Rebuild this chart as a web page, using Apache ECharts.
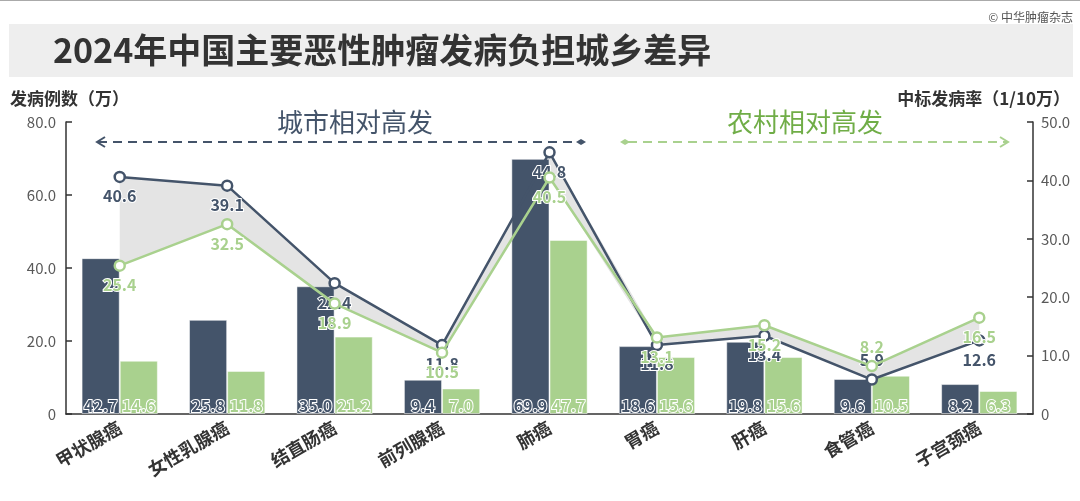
<!DOCTYPE html>
<html><head><meta charset="utf-8">
<script src="https://cdn.jsdelivr.net/npm/echarts@6/dist/echarts.min.js"></script>
<style>html,body{margin:0;padding:0;background:#fff}#c{width:1080px;height:501px}</style>
</head><body><div id="c"></div>
<script>
const categories = ['甲状腺癌','女性乳腺癌','结直肠癌','前列腺癌','肺癌','胃癌','肝癌','食管癌','子宫颈癌'];
const urbanCases = [42.7, 25.8, 35.0, 9.4, 69.9, 18.6, 19.8, 9.6, 8.2];
const ruralCases = [14.6, 11.8, 21.2, 7.0, 47.7, 15.6, 15.6, 10.5, 6.3];
const urbanRate = [40.6, 39.1, 22.4, 11.8, 44.8, 11.8, 13.4, 5.9, 12.6];
const ruralRate = [25.4, 32.5, 18.9, 10.5, 40.5, 13.1, 15.2, 8.2, 16.5];
const leftTicks = [0, 20, 40, 60, 80];
const rightTicks = [0, 10, 20, 30, 40, 50];

const FONT = '"Noto Sans CJK SC","Noto Sans",sans-serif';
const BLUE = '#44546a', GREEN = '#a9d18e', GREEN_TXT = '#70ad47';
const bandBase = urbanRate.map((u, i) => Math.min(u, ruralRate[i]));
const bandDiff = urbanRate.map((u, i) => +Math.abs(u - ruralRate[i]).toFixed(2));
const fmt = v => v === 0 ? '0' : v.toFixed(1);
const lineLabel = (color, data) => data.map((v, i) => ({
  value: v,
  label: { position: i === 7 ? 'top' : 'bottom' }
}));

const chart = echarts.init(document.getElementById('c'), null, { renderer: 'canvas' });
chart.setOption({
  animation: false,
  textStyle: { fontFamily: FONT },
  grid: { left: 66, right: 47, top: 122, bottom: 87 },
  xAxis: {
    type: 'category', data: categories,
    axisLine: { lineStyle: { color: '#333', width: 1.5 } },
    axisTick: { show: false },
    axisLabel: { rotate: 30, fontSize: 18, fontWeight: 'bold', color: '#333', fontFamily: FONT, margin: 12, interval: 0 }
  },
  yAxis: [
    { type: 'value', min: leftTicks[0], max: leftTicks[leftTicks.length - 1], interval: 20,
      splitLine: { show: false },
      axisLine: { show: true, lineStyle: { color: '#333', width: 1.5 } },
      axisTick: { show: true, inside: true, length: 6, lineStyle: { color: '#333', width: 1.5 } },
      axisLabel: { formatter: fmt, color: '#595959', fontSize: 15, fontFamily: FONT, margin: 10 } },
    { type: 'value', min: rightTicks[0], max: rightTicks[rightTicks.length - 1], interval: 10,
      splitLine: { show: false },
      axisLine: { show: true, lineStyle: { color: '#333', width: 1.5 } },
      axisTick: { show: true, inside: true, length: 6, lineStyle: { color: '#333', width: 1.5 } },
      axisLabel: { formatter: fmt, color: '#595959', fontSize: 15, fontFamily: FONT, margin: 8 } }
  ],
  series: [
    { type: 'line', yAxisIndex: 1, stack: 'band', data: bandBase, symbol: 'none',
      lineStyle: { opacity: 0 }, silent: true, z: 1 },
    { type: 'line', yAxisIndex: 1, stack: 'band', data: bandDiff, symbol: 'none',
      lineStyle: { opacity: 0 }, areaStyle: { color: '#e4e4e4', opacity: 1 }, silent: true, z: 1 },
    { name: '城市发病例数', type: 'bar', data: urbanCases, barGap: '0%', barCategoryGap: '29%',
      itemStyle: { color: BLUE, borderColor: 'rgba(255,255,255,0.5)', borderWidth: 1 }, z: 2,
      label: { show: true, position: 'insideBottom', distance: 0, formatter: p => p.value.toFixed(1),
        color: BLUE, fontSize: 16, fontWeight: 'bold', fontFamily: FONT, textBorderColor: '#fff', textBorderWidth: 2 } },
    { name: '农村发病例数', type: 'bar', data: ruralCases,
      itemStyle: { color: GREEN, borderColor: 'rgba(255,255,255,0.5)', borderWidth: 1 }, z: 2,
      label: { show: true, position: 'insideBottom', distance: 0, formatter: p => p.value.toFixed(1),
        color: GREEN, fontSize: 16, fontWeight: 'bold', fontFamily: FONT, textBorderColor: '#fff', textBorderWidth: 2 } },
    { name: '城市发病率', type: 'line', yAxisIndex: 1, data: lineLabel(BLUE, urbanRate), z: 3,
      symbol: 'circle', symbolSize: 10,
      itemStyle: { color: '#fff', borderColor: BLUE, borderWidth: 2.5 },
      lineStyle: { color: BLUE, width: 2.5 },
      label: { show: true, distance: 5, formatter: p => p.value.toFixed(1), color: BLUE,
        fontSize: 16, fontWeight: 'bold', fontFamily: FONT, textBorderColor: '#fff', textBorderWidth: 2 } },
    { name: '农村发病率', type: 'line', yAxisIndex: 1, data: lineLabel(GREEN, ruralRate), z: 4,
      symbol: 'circle', symbolSize: 10,
      itemStyle: { color: '#fff', borderColor: GREEN, borderWidth: 2.5 },
      lineStyle: { color: GREEN, width: 2.5 },
      label: { show: true, distance: 5, formatter: p => p.value.toFixed(1), color: GREEN,
        fontSize: 16, fontWeight: 'bold', fontFamily: FONT, textBorderColor: '#fff', textBorderWidth: 2 } }
  ],
  graphic: [
    { type: 'line', shape: { x1: 0, y1: 0.5, x2: 1080, y2: 0.5 }, style: { stroke: '#aaa', lineWidth: 1 } },
    { type: 'rect', shape: { x: 9, y: 24, width: 1064, height: 53 }, style: { fill: '#eeeeee' } },
    { type: 'text', x: 53, y: 50, style: { text: '2024年中国主要恶性肿瘤发病负担城乡差异', font: 'bold 34px ' + FONT, fill: '#333', verticalAlign: 'middle' } },
    { type: 'text', x: 1073, y: 17, style: { text: '© 中华肿瘤杂志', font: '12px ' + FONT, fill: '#555', align: 'right', verticalAlign: 'middle' } },
    { type: 'text', x: 10, y: 99, style: { text: '发病例数（万）', font: 'bold 17px ' + FONT, fill: '#333', verticalAlign: 'middle' } },
    { type: 'text', x: 1070, y: 99, style: { text: '中标发病率（1/10万）', font: 'bold 17px ' + FONT, fill: '#333', align: 'right', verticalAlign: 'middle' } },
    { type: 'text', x: 355, y: 122, style: { text: '城市相对高发', font: '26px ' + FONT, fill: BLUE, align: 'center', verticalAlign: 'middle' } },
    { type: 'text', x: 805, y: 122, style: { text: '农村相对高发', font: '26px ' + FONT, fill: GREEN_TXT, align: 'center', verticalAlign: 'middle' } },
    { type: 'line', shape: { x1: 98, y1: 142, x2: 578, y2: 142 }, style: { stroke: BLUE, lineWidth: 2, lineDash: [9, 6] } },
    { type: 'polyline', shape: { points: [[105, 137], [97, 142], [105, 147]] }, style: { stroke: BLUE, lineWidth: 2, fill: null } },
    { type: 'polygon', shape: { points: [[576, 142], [581, 139], [586, 142], [581, 145]] }, style: { fill: BLUE } },
    { type: 'line', shape: { x1: 628, y1: 142, x2: 1007, y2: 142 }, style: { stroke: GREEN, lineWidth: 2, lineDash: [9, 6] } },
    { type: 'polygon', shape: { points: [[620, 142], [625, 139], [630, 142], [625, 145]] }, style: { fill: GREEN } },
    { type: 'polyline', shape: { points: [[1000, 137], [1008, 142], [1000, 147]] }, style: { stroke: GREEN, lineWidth: 2, fill: null } }
  ]
});
</script>
</body></html>
